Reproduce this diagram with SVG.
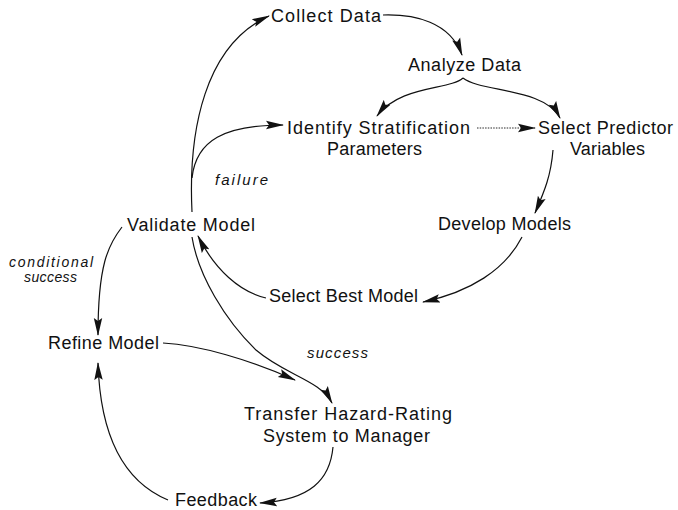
<svg xmlns="http://www.w3.org/2000/svg" width="678" height="510" viewBox="0 0 678 510">
<style>
text{font-family:"Liberation Sans","DejaVu Sans",Arial,sans-serif;font-size:18px;fill:#111}
text.lbl{font-size:15px;font-style:italic}
text.sm{font-size:14px}
.c path{fill:none;stroke:#111;stroke-width:1.2}
.c path.arr{marker-end:url(#ah)}
.c path.dot{stroke-width:0.9;stroke-dasharray:1.5 1.2}
</style>
<defs>
<marker id="ah" markerWidth="20" markerHeight="10" refX="17" refY="5" orient="auto" markerUnits="userSpaceOnUse">
<path d="M0,0.8 L18,5 L0,9.2 L3,5 z" fill="#111"/>
</marker>
</defs>
<rect width="678" height="510" fill="#fff"/>
<g class="c" id="connectors">
<path class="arr" d="M383,15 C415,14 450,22 462,55"/>
<path class="arr" d="M463,78 C450,90 400,85 377,116"/>
<path class="arr" d="M463,78 C480,92 545,88 560,118"/>
<path class="arr dot" d="M477,128 L535,128"/>
<path class="arr" d="M553,150 C551,175 545,190 535,213"/>
<path class="arr" d="M522,237 C505,270 470,292 423,302"/>
<path class="arr" d="M266,298 C240,292 215,270 198,236"/>
<path class="arr" d="M192,212 C188,130 205,45 269,16"/>
<path class="arr" d="M192,178 C196,140 225,125 283,125"/>
<path class="arr" d="M122,227 C108,245 98,265 98,335"/>
<path class="arr" d="M192,237 C198,275 225,320 256,350 C285,375 320,380 332,403"/>
<path class="arr" d="M163,343 C200,345 250,360 295,380"/>
<path class="arr" d="M333,447 C330,480 310,500 260,503"/>
<path class="arr" d="M168,500 C120,480 100,430 98,363"/>
</g>
<g id="collect"><text x="271" y="22" textLength="110" lengthAdjust="spacing">Collect Data</text></g>
<g id="analyze"><text x="408" y="71" textLength="113" lengthAdjust="spacing">Analyze Data</text></g>
<g id="identify"><text x="287" y="134" textLength="183" lengthAdjust="spacing">Identify Stratification</text><text x="327" y="155" textLength="95" lengthAdjust="spacing">Parameters</text></g>
<g id="select-predictor"><text x="538" y="134" textLength="135" lengthAdjust="spacing">Select Predictor</text><text x="570" y="155" textLength="75" lengthAdjust="spacing">Variables</text></g>
<g id="failure-label"><text class="lbl" x="215" y="185" textLength="53" lengthAdjust="spacing">failure</text></g>
<g id="validate"><text x="127" y="231" textLength="128" lengthAdjust="spacing">Validate Model</text></g>
<g id="develop"><text x="438" y="230" textLength="133" lengthAdjust="spacing">Develop Models</text></g>
<g id="conditional-label"><text class="lbl sm" x="9" y="267" textLength="84" lengthAdjust="spacing">conditional</text><text class="lbl sm" x="24" y="282" textLength="53" lengthAdjust="spacing">success</text></g>
<g id="select-best"><text x="269" y="302" textLength="149" lengthAdjust="spacing">Select Best Model</text></g>
<g id="refine"><text x="48" y="349" textLength="111" lengthAdjust="spacing">Refine Model</text></g>
<g id="success-label"><text class="lbl" x="307" y="358" textLength="61" lengthAdjust="spacing">success</text></g>
<g id="transfer"><text x="244" y="420" textLength="208" lengthAdjust="spacing">Transfer Hazard-Rating</text><text x="263" y="442" textLength="167" lengthAdjust="spacing">System to Manager</text></g>
<g id="feedback"><text x="175" y="506" textLength="82" lengthAdjust="spacing">Feedback</text></g>
</svg>
